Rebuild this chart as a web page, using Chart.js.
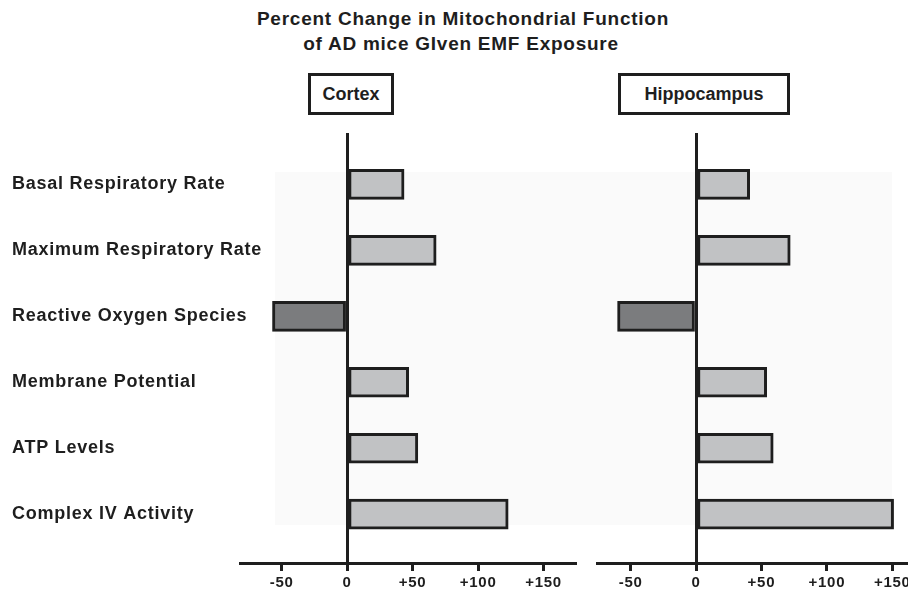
<!DOCTYPE html>
<html>
<head>
<meta charset="utf-8">
<script src="https://cdn.jsdelivr.net/npm/chart.js@4"></script>
<style>
    body { margin: 0; background: #fff; font-family: "Liberation Sans", Arial, sans-serif; color: #1e1e1e; }
    #page { position: relative; width: 908px; height: 599px; overflow: hidden; }
    .title { position: absolute; left: 0; width: 926px; text-align: center; font-weight: bold; font-size: 19px; letter-spacing: 0.75px; }
    .panel { position: absolute; top: 73px; height: 36px; border: 3px solid #1e1e1e; font-weight: bold; font-size: 18px; line-height: 36px; text-align: center; box-sizing: content-box; }
    .shade { position: absolute; left: 275px; top: 172px; width: 617px; height: 353px; background: #fafafa; }
    .box { position: absolute; top: 0; height: 599px; }
</style>
</head>
<body>
<div id="page">
    <div class="shade"></div>
    <div class="title" style="top: 8px;">Percent Change in Mitochondrial Function</div>
    <div class="title" style="top: 33px; width: 922px;">of AD mice GIven EMF Exposure</div>
    <div class="panel" style="left: 308px; width: 80px;">Cortex</div>
    <div class="panel" style="left: 618px; width: 166px;">Hippocampus</div>
    <div class="box" style="left: 0; width: 590px;"><canvas id="cortexChart"></canvas></div>
    <div class="box" style="left: 590px; width: 340px;"><canvas id="hippoChart"></canvas></div>
</div>
<script>
const categories = [
    "Basal Respiratory Rate",
    "Maximum Respiratory Rate",
    "Reactive Oxygen Species",
    "Membrane Potential",
    "ATP Levels",
    "Complex IV Activity",
];
const cortexValues = [43.5, 68, -57, 47, 54, 123];
const hippocampusValues = [41, 72, -60, 54, 59, 151];
const xTicks = [-50, 0, 50, 100, 150];

const ink = "#1e1e1e";
const labelWidth = 230;

// wider tracking for the category labels only; x axis is drawn after the bars (z: 1)
const spacing = {
    id: "spacing",
    beforeDraw: (chart) => { chart.ctx.letterSpacing = "0.75px"; },
    beforeDatasetsDraw: (chart) => { chart.ctx.letterSpacing = "0px"; },
};

function makeChart(id, values, xMin, xMax, showLabels, padding) {
    const ctx = document.getElementById(id);
    return new Chart(ctx.getContext("2d"), {
        type: "bar",
        data: {
            labels: categories,
            datasets: [
                {
                    data: values.map((v, i) => ({ x: v, y: i })),
                    backgroundColor: values.map((v) => (v < 0 ? "#7b7c7e" : "#c1c2c4")),
                    borderColor: ink,
                    borderWidth: 3,
                    borderSkipped: false,
                    barThickness: 30,
                },
            ],
        },
        plugins: [spacing],
        options: {
            indexAxis: "y",
            responsive: true,
            maintainAspectRatio: false,
            animation: false,
            layout: { padding: padding },
            plugins: {
                legend: { display: false },
                tooltip: { enabled: false },
            },
            scales: {
                x: {
                    type: "linear",
                    z: 1,
                    min: xMin,
                    max: xMax,
                    afterBuildTicks: (s) => { s.ticks = xTicks.map((v) => ({ value: v })); },
                    afterFit: (s) => { s.height = 36; },
                    border: { display: true, color: ink, width: 3 },
                    grid: {
                        color: (c) => (c.tick && c.tick.value === 0 ? ink : "rgba(0,0,0,0)"),
                        lineWidth: 3,
                        tickColor: ink,
                        tickWidth: 3,
                        tickLength: 8,
                    },
                    ticks: {
                        color: ink,
                        padding: 3,
                        maxRotation: 0,
                        autoSkip: false,
                        font: { family: "'Liberation Sans', Arial", size: 15, weight: "bold" },
                        callback: (v) => (v > 0 ? "+" + v : "" + v),
                    },
                },
                y: {
                    type: "linear",
                    reverse: true,
                    offset: false,
                    min: -0.78,
                    max: 5.74,
                    display: showLabels,
                    afterBuildTicks: (s) => { s.ticks = categories.map((c, i) => ({ value: i })); },
                    afterFit: (s) => { s.width = showLabels ? labelWidth : 0; },
                    border: { display: false },
                    grid: { display: false },
                    ticks: {
                        color: ink,
                        mirror: true,
                        padding: -labelWidth + 2,
                        crossAlign: "near",
                        font: { family: "'Liberation Sans', Arial", size: 18, weight: "bold" },
                        callback: (v) => categories[v],
                    },
                },
            },
        },
    });
}

makeChart("cortexChart", cortexValues, -81.8, 174, true, { left: 10, right: 15, top: 133, bottom: 0 });
makeChart("hippoChart", hippocampusValues, -75.7, 162, false, { left: 7, right: 22, top: 133, bottom: 0 });
</script>
</body>
</html>
